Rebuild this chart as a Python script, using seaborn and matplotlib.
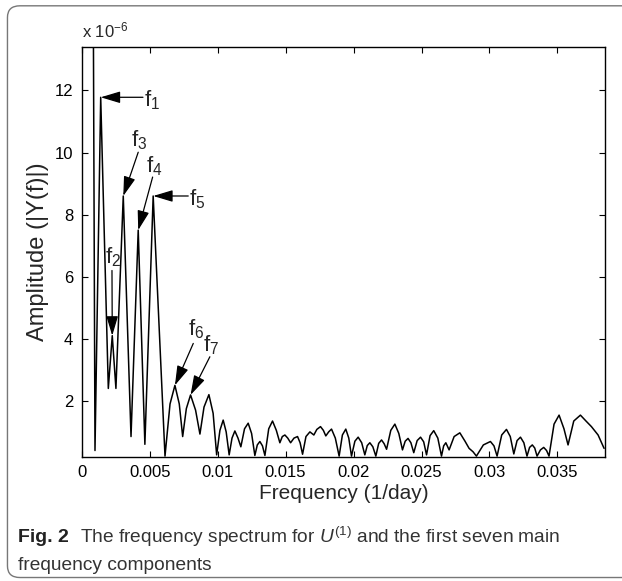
import matplotlib
matplotlib.use("Agg")
import matplotlib.pyplot as plt
from matplotlib.patches import FancyBboxPatch
import pandas as pd
import seaborn as sns

# ── spectrum (amplitude in units of 1e-6) ──────────────────────────────────
freq = [
    0.00081, 0.00098, 0.00140, 0.00196, 0.00225, 0.00252, 0.00306, 0.00363,
    0.00416, 0.00465, 0.00526, 0.00613,
    0.00650, 0.00686, 0.00718, 0.00743, 0.00770, 0.00801, 0.00838, 0.00870,
    0.00900, 0.00936, 0.00967, 0.00993, 0.01017, 0.01041, 0.01063, 0.01085,
    0.01106, 0.01127, 0.01150, 0.01171, 0.01198, 0.01225, 0.01250, 0.01274,
    0.01292, 0.01311, 0.01330, 0.01348, 0.01376, 0.01404, 0.01432, 0.01458,
    0.01476, 0.01495, 0.01516, 0.01537, 0.01562, 0.01588, 0.01607, 0.01625,
    0.01650, 0.01679, 0.01708, 0.01730, 0.01757, 0.01778, 0.01796, 0.01817,
    0.01838, 0.01866, 0.01894, 0.01918, 0.01943, 0.01965, 0.01985, 0.02010,
    0.02034, 0.02060, 0.02083, 0.02101, 0.02120, 0.02142, 0.02164, 0.02185,
    0.02206, 0.02225, 0.02243, 0.02274, 0.02304, 0.02333, 0.02360, 0.02380,
    0.02401, 0.02422, 0.02443, 0.02468, 0.02493, 0.02516, 0.02537, 0.02563,
    0.02590, 0.02620, 0.02647, 0.02663, 0.02679, 0.02703, 0.02740, 0.02782,
    0.02820, 0.02850, 0.02879, 0.02904, 0.02955, 0.03007, 0.03033, 0.03056,
    0.03090, 0.03125, 0.03153, 0.03179, 0.03203, 0.03228, 0.03253, 0.03276,
    0.03295, 0.03315, 0.03333, 0.03350, 0.03375, 0.03399, 0.03420, 0.03438,
    0.03475, 0.03512, 0.03548, 0.03578, 0.03620, 0.03669, 0.03710, 0.03750,
    0.03799, 0.03843,
]
amp = [
    20.0, 0.40, 11.78, 2.40, 4.10, 2.40, 8.60, 0.85,
    7.50, 0.60, 8.60, 0.22,
    1.90, 2.50, 1.90, 0.85, 1.75, 2.19, 1.70, 0.93,
    1.80, 2.20, 1.60, 0.26, 1.05, 1.38, 1.00, 0.26,
    0.80, 1.03, 0.80, 0.52, 1.10, 1.28, 0.95, 0.24,
    0.58, 0.69, 0.55, 0.24, 1.10, 1.35, 1.05, 0.65,
    0.85, 0.90, 0.80, 0.65, 0.80, 0.85, 0.65, 0.28,
    0.85, 1.00, 0.90, 1.08, 1.17, 1.05, 0.87, 1.00,
    1.09, 0.80, 0.22, 0.90, 1.09, 0.80, 0.22, 0.70,
    0.83, 0.65, 0.26, 0.56, 0.65, 0.52, 0.22, 0.63,
    0.74, 0.62, 0.44, 1.05, 1.25, 0.95, 0.42, 0.70,
    0.79, 0.65, 0.33, 0.72, 0.83, 0.68, 0.26, 0.88,
    1.04, 0.80, 0.22, 0.55, 0.65, 0.42, 0.85, 0.97,
    0.70, 0.47, 0.36, 0.22, 0.58, 0.69, 0.55, 0.22,
    0.90, 1.08, 0.85, 0.29, 0.72, 0.83, 0.65, 0.22,
    0.50, 0.58, 0.48, 0.22, 0.42, 0.50, 0.40, 0.22,
    1.25, 1.54, 1.10, 0.58, 1.35, 1.54, 1.35, 1.17,
    0.90, 0.47,
]

# the seven marked components f1..f7
peak_names = ["1", "2", "3", "4", "5", "6", "7"]
peak_freq = [0.00140, 0.00225, 0.00306, 0.00416, 0.00526, 0.00686, 0.00801]

x_ticks = [0, 0.005, 0.01, 0.015, 0.02, 0.025, 0.03, 0.035]
x_tick_labels = ["0", "0.005", "0.01", "0.015", "0.02", "0.025", "0.03", "0.035"]
y_ticks = [2, 4, 6, 8, 10, 12]

sns.set_theme(style="ticks")
plt.rcParams["font.family"] = ["Liberation Sans", "DejaVu Sans"]
plt.rcParams["mathtext.fontset"] = "custom"
plt.rcParams["mathtext.rm"] = "Liberation Sans"
plt.rcParams["mathtext.it"] = "Liberation Sans:italic"

fig = plt.figure(figsize=(6.22, 5.81), dpi=100)
ax = fig.add_axes([0.1313, 0.2139, 0.8414, 0.7052])

df = pd.DataFrame({"freq": freq, "amp": amp})
sns.lineplot(data=df, x="freq", y="amp", sort=False, color="black",
             linewidth=1.1, ax=ax)

ax.set_xlim(0, 0.0385)
ax.set_ylim(0.2, 13.4)
ax.set_xticks(x_ticks)
ax.set_xticklabels(x_tick_labels)
ax.set_yticks(y_ticks)
ax.tick_params(direction="in", top=True, right=True, length=4, width=0.8,
               labelsize=12, colors="black", pad=6)
for s in ax.spines.values():
    s.set_linewidth(1.0)
    s.set_color("black")
ax.set_xlabel("Frequency (1/day)", fontsize=15, labelpad=3)
ax.set_ylabel("Amplitude (|Y(f)|)", fontsize=17, labelpad=4)
ax.text(0.0, 1.015, r"x 10$^{-6}$", transform=ax.transAxes, fontsize=12,
        ha="left", va="bottom")

# ── arrows and labels (label spot, arrow tail) ─────────────────────────────
label_xy = [(0.00459, 11.7), (0.00174, 6.62), (0.00366, 10.4), (0.00476, 9.56),
            (0.00791, 8.50), (0.00782, 4.32), (0.00892, 3.80)]
tail_xy = [(0.00451, 11.78), (0.00223, 6.20), (0.00416, 10.01), (0.00522, 9.21),
           (0.00784, 8.60), (0.00821, 3.85), (0.00943, 3.42)]
arrow = dict(arrowstyle="-|>,head_length=1.0,head_width=0.3", color="black",
             lw=0.9, shrinkA=0, shrinkB=0)
for name, pf, lxy, txy in zip(peak_names, peak_freq, label_xy, tail_xy):
    i = freq.index(pf)
    ax.annotate("", xy=(freq[i], amp[i]), xytext=txy, arrowprops=arrow)
    ax.text(lxy[0], lxy[1], r"$\mathregular{f_{%s}}$" % name, fontsize=16,
            ha="left", va="center")

# caption and frame
fig.text(0.029, 0.075, "Fig. 2", fontsize=14, fontweight="bold", ha="left",
         va="center", color="#222222")
fig.text(0.128, 0.075, r"The frequency spectrum for $U^{(1)}$ and the first seven main",
         fontsize=13.8, ha="left", va="center", color="#333333")
fig.text(0.029, 0.027, "frequency components", fontsize=13.8, ha="left",
         va="center", color="#333333")
frame = FancyBboxPatch((0.012, 0.006), 1.05, 0.984, transform=fig.transFigure,
                       boxstyle="round,pad=0,rounding_size=0.02",
                       facecolor="none", edgecolor="#777777", linewidth=1.0)
fig.patches.append(frame)

fig.savefig("out.png", dpi=100)
